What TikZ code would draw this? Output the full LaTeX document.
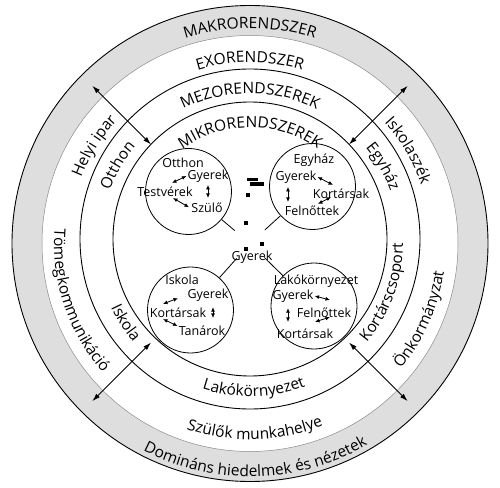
\documentclass[tikz,border=0pt]{standalone}
\usepackage{fontspec}
\setmainfont{Open Sans}
\usetikzlibrary{arrows.meta,decorations.text}

\newcommand{\gyurufont}{\fontsize{15.5}{18}\selectfont}
\newcommand{\korfont}{\fontsize{12.5}{14}\selectfont}

\tikzset{
  gyuru/.style={decorate, decoration={text along path, text align=center, text={|\gyurufont|#1}}},
  szo/.style={font=\korfont, inner sep=1pt},
  kiskor/.style={draw, circle, line width=0.8pt, minimum size=86pt, inner sep=0pt},
  kisnyil/.style={<->, >={Latex[length=4.5pt,width=4pt]}, line width=0.8pt},
  nagynyil/.style={<->, >={Latex[length=8pt,width=5pt]}, line width=0.9pt},
}

\begin{document}
\begin{tikzpicture}[x=1pt,y=1pt]
  \useasboundingbox (-250,-243.5) rectangle (250,243.5);

  % rings
  \fill[black!13, even odd rule] (0,0) circle (238pt) (0,0) circle (208pt);
  \draw[line width=0.9pt] (0,0) circle (238pt);
  \draw[black!45, line width=0.5pt] (0,0) circle (208pt);
  \draw[line width=0.9pt] (0,4.5) circle (170pt);
  \draw[line width=0.9pt] (0,4.5) circle (137pt);

  % ring titles
  \path[gyuru=MAKRORENDSZER] (180:215pt) arc[start angle=180, end angle=0, radius=215pt];
  \path[gyuru=EXORENDSZER] (180:181pt) arc[start angle=180, end angle=0, radius=181pt];
  \path[gyuru=MEZORENDSZEREK] (180:150pt) arc[start angle=180, end angle=0, radius=150pt];
  \path[gyuru=MIKRORENDSZEREK] (180:116pt) arc[start angle=180, end angle=0, radius=116pt];

  % side labels, upper half
  \path[gyuru=Helyi ipar] (183:181pt) arc[start angle=183, end angle=113, radius=181pt];
  \path[gyuru=Otthon] (184.5:150pt) arc[start angle=184.5, end angle=114.5, radius=150pt];
  \path[gyuru=Iskolaszék] (65.5:181pt) arc[start angle=65.5, end angle=-4.5, radius=181pt];
  \path[gyuru=Egyház] (65:150pt) arc[start angle=65, end angle=-5, radius=150pt];

  % side labels, lower half
  \path[gyuru=Tömegkommunikáció] (163.5:196pt) arc[start angle=163.5, end angle=233.5, radius=196pt];
  \path[gyuru=Iskola] (177.5:153pt) arc[start angle=177.5, end angle=247.5, radius=153pt];
  \path[gyuru=Kortárscsoport] (305:153pt) arc[start angle=305, end angle=375, radius=153pt];
  \path[gyuru=Önkormányzat] (301:196pt) arc[start angle=301, end angle=371, radius=196pt];

  % bottom labels
  \path[gyuru=Lakókörnyezet] (181.5:153pt) arc[start angle=181.5, end angle=361.5, radius=153pt];
  \path[gyuru=Szülők munkahelye] (181.5:196pt) arc[start angle=181.5, end angle=361.5, radius=196pt];
  \path[gyuru=Domináns hiedelmek és nézetek] (181.5:233pt) arc[start angle=181.5, end angle=361.5, radius=233pt];

  % arrows across the rings
  \foreach \a in {45,135,225,315} {
    \coordinate (be\a) at (\a:140pt);
    \coordinate (ki\a) at (\a:223pt);
    \draw[nagynyil] (be\a) -- (ki\a);
  }

  % micro systems
  \node[kiskor] (otkor) at (-61.5,52) {};
  \node[kiskor] (egkor) at (62.5,57) {};
  \node[kiskor] (iskor) at (-59.5,-66.5) {};
  \node[kiskor] (lakor) at (64,-62.5) {};

  \node[szo] (gyerek) at (2,-13.5) {Gyerek};
  \coordinate (kozep) at (0,0);
  \foreach \k in {otkor,egkor,iskor,lakor}
    \draw[line width=0.8pt, shorten >=20pt] (\k) -- (kozep);

  % Otthon
  \node[szo] (ot) at (-67,80.5) {Otthon};
  \node[szo] (otgy) at (-42,67.5) {Gyerek};
  \node[szo] (otte) at (-85,51.5) {Testvérek};
  \node[szo] (otsz) at (-43,35.5) {Szülő};
  \draw[kisnyil] ([shift={(7pt,3pt)}]otte.north) -- (otgy.west);
  \draw[kisnyil, shorten <=1.5pt, shorten >=4pt] (otgy.south) -- (otgy.south |- otsz.north);
  \draw[kisnyil, shorten >=1.5pt] ([xshift=8pt]otte.south) -- (otsz.west);

  % Egyhaz
  \node[szo] (eg) at (64,83.5) {Egyház};
  \node[szo] (eggy) at (46,66.5) {Gyerek};
  \node[szo] (egko) at (91,49.5) {Kortársak};
  \node[szo] (egfe) at (62,32.5) {Felnőttek};
  \draw[kisnyil] (eggy.east) -- ([shift={(-8pt,3pt)}]egko.north);
  \draw[kisnyil, shorten <=2.5pt, shorten >=3pt] ([xshift=-8pt]eggy.south) -- ([xshift=-8pt]eggy.south |- egfe.north);
  \draw[kisnyil] ([shift={(-10pt,3pt)}]egko.south) -- ([shift={(6pt,1pt)}]egfe.north);

  % Iskola
  \node[szo] (is) at (-68,-36.5) {Iskola};
  \node[szo] (isgy) at (-42,-51.5) {Gyerek};
  \node[szo] (isko) at (-72,-69.5) {Kortársak};
  \node[szo] (ista) at (-48,-87.5) {Tanárok};
  \draw[kisnyil, shorten >=9pt] ([shift={(-15pt,3pt)}]isko.north) -- (isgy.west);
  \draw[kisnyil, shorten <=4.75pt, shorten >=7pt] ([xshift=5pt]isgy.south) -- ([xshift=5pt]isgy.south |- ista.north);
  \draw[kisnyil] ([xshift=-15pt]isko.south) -- ([yshift=5pt]ista.west);

  % Lakokornyezet
  \node[szo] (la) at (66,-37.5) {Lakókörnyezet};
  \node[szo] (lagy) at (43,-52.5) {Gyerek};
  \node[szo] (lafe) at (74,-69.5) {Felnőttek};
  \node[szo] (lako) at (55,-90.5) {Kortársak};
  \draw[kisnyil] (lagy.east) -- ([shift={(6pt,7pt)}]lafe.north);
  \draw[kisnyil, shorten <=4.75pt, shorten >=6pt] ([xshift=-5pt]lagy.south) -- ([xshift=-5pt]lagy.south |- lako.north);
  \draw[kisnyil] ([shift={(6pt,2pt)}]lafe.south) -- ([shift={(10pt,6pt)}]lako.north);

  % small marks near the centre
  \fill (-3,62.5) rectangle (8,65.5);
  \fill (0,57.5) rectangle (14,61.5);
  \fill (-4,46.5) rectangle (0,50.5);
  \fill (-6,18.5) rectangle (-2,22.5);
  \fill (-6,-7.5) rectangle (-2,-3.5);
  \fill (10,-2.5) rectangle (14,1.5);
\end{tikzpicture}
\end{document}
